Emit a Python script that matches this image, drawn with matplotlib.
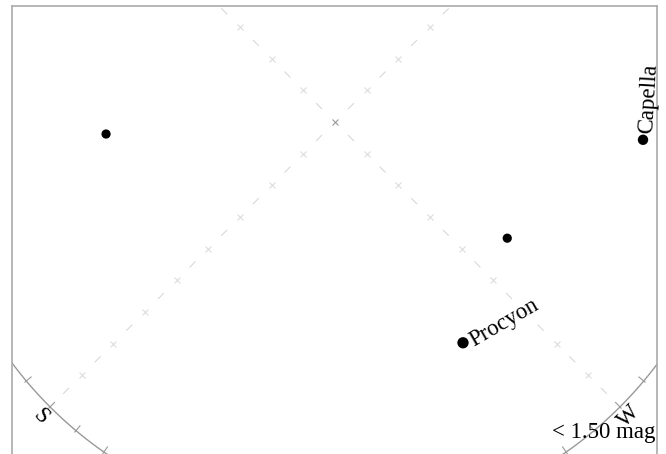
import numpy as np
import matplotlib.pyplot as plt

plt.rcParams['font.family'] = ['Liberation Serif', 'DejaVu Serif']
plt.rcParams['lines.scale_dashes'] = False

#----------------
# DATA
#----------------
# stars brighter than the limit: altitude / azimuth in degrees
star_names = ['', 'Capella', '', 'Procyon']
star_alt = [38.8, 21.1, 43.6, 33.0]
star_az = [138.0, 311.7, 281.0, 255.1]
star_size = [44, 56, 44, 66]

cardinal_names = ['S', 'W']
cardinal_az = [180, 270]
grid_az = [0, 90, 180, 270]
alt_marks = [10, 20, 30, 40, 50, 60, 70, 80]
mag_limit = 1.50

ROT = 45  # azimuth offset of the chart


def project(alt, az):
    # azimuthal equidistant, zenith in the middle, horizon r = 1
    r = (90 - np.asarray(alt, dtype=float)) / 90.0
    t = np.radians(np.asarray(az, dtype=float) + ROT)
    return r * np.cos(t), r * np.sin(t)


#----------------
# FIGURE
#----------------
fig = plt.figure(figsize=(6.66, 4.54), dpi=100)
ax = fig.add_axes([12 / 666, 0, 645 / 666, 448 / 454])
ax.set_xlim(-0.8015, 0.799)
ax.set_ylim(-0.824, 0.288)
ax.set_xticks([])
ax.set_yticks([])
for side in ['top', 'left', 'right']:
    ax.spines[side].set_color('#aaaaaa')
    ax.spines[side].set_linewidth(1.2)
ax.spines['bottom'].set_visible(False)

# horizon
az_line = np.arange(0, 361, 1)
hx, hy = project(np.zeros_like(az_line), az_line)
ax.plot(hx, hy, color='#999999', lw=1)

# ticks on horizon every 5 deg
for a in range(0, 360, 5):
    tx0, ty0 = project(1.4, a)
    tx1, ty1 = project(-0.4, a)
    ax.plot([tx0, tx1], [ty0, ty1], color='#999999', lw=0.8)

# dashed meridian lines and altitude marks
for a in grid_az:
    gx, gy = project([90, 0], [a, a])
    ax.plot(gx, gy, color='#d8d8d8', lw=0.8, linestyle=(19.0, (6.0, 26.2)))
    mx, my = project(alt_marks, [a] * len(alt_marks))
    ax.plot(mx, my, 'x', color='#d8d8d8', ms=5, mew=0.7)
cx, cy = project(90, 0)
ax.plot(cx, cy, 'x', color='#999999', ms=5, mew=0.8)

# cardinal labels
for name, a in zip(cardinal_names, cardinal_az):
    lx, ly = project(-2.9, a)
    ax.text(lx, ly, name, fontsize=16.5, rotation=(a + ROT + 90) % 360,
            ha='center', va='center', rotation_mode='anchor')

# stars
sx, sy = project(star_alt, star_az)
ax.scatter(sx, sy, s=star_size, color='black', linewidths=0, zorder=5)
for name, x, y, a in zip(star_names, sx, sy, star_az):
    if not name:
        continue
    rot = (a + ROT + 90) % 360
    r = np.radians(rot)
    d, p = 5.0, -2.5  # along text, across text
    ax.annotate(name, (x, y),
                xytext=(d * np.cos(r) + p * np.cos(r + np.pi / 2),
                        d * np.sin(r) + p * np.sin(r + np.pi / 2)),
                textcoords='offset points', fontsize=16.5, rotation=rot,
                rotation_mode='anchor', ha='left', va='center')

ax.text(0.794, -0.784, '< %.2f mag' % mag_limit, fontsize=16.5,
        ha='right', va='baseline')

fig.savefig('out.png', dpi=100)
